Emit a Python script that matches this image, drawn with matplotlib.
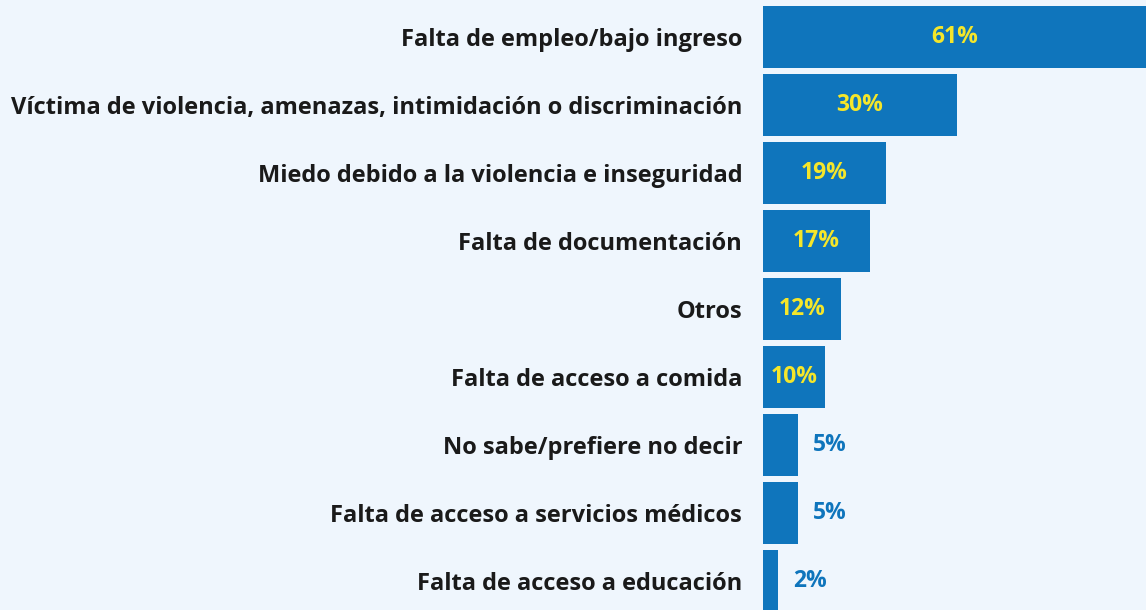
import matplotlib.pyplot as plt

# datos
categorias = ["Falta de empleo/bajo ingreso",
              "Víctima de violencia, amenazas, intimidación o discriminación",
              "Miedo debido a la violencia e inseguridad",
              "Falta de documentación",
              "Otros",
              "Falta de acceso a comida",
              "No sabe/prefiere no decir",
              "Falta de acceso a servicios médicos",
              "Falta de acceso a educación"]
valores = [60.9, 30.0, 19.0, 16.5, 12.1, 9.6, 5.4, 5.4, 2.3]
etiquetas = ["61%", "30%", "19%", "17%", "12%", "10%", "5%", "5%", "2%"]

fondo = "#EFF6FD"
azul = "#0F75BC"
amarillo = "#F5E62A"
fuente = "Open Sans"

fig = plt.figure(figsize=(11.46, 6.10), dpi=100, facecolor=fondo)
ax = fig.add_axes([763/1146, 0, 383/1146, 1])
ax.set_facecolor(fondo)

y = list(range(len(categorias)))
ax.barh(y, valores, height=0.91, color=azul)
xmax = 59.2
ax.set_xlim(0, xmax)
ax.set_ylim(8.43, -0.545)

for i, (v, et) in enumerate(zip(valores, etiquetas)):
    if v >= 9:
        ax.text(min(v, xmax) / 2, i, et, color=amarillo, fontsize=16.5, fontweight="bold",
                ha="center", va="center", family=fuente)
    else:
        ax.text(v + 2.3, i, et, color=azul, fontsize=16.5, fontweight="bold",
                ha="left", va="center", family=fuente)

ax.set_yticks(y)
ax.set_yticklabels(categorias, fontsize=17, fontweight="bold", color="#1A1A1A", family=fuente)
ax.tick_params(axis="y", length=0, pad=15)
ax.set_xticks([])
for s in ax.spines.values():
    s.set_visible(False)

plt.savefig("out.png", dpi=100, facecolor=fondo)
